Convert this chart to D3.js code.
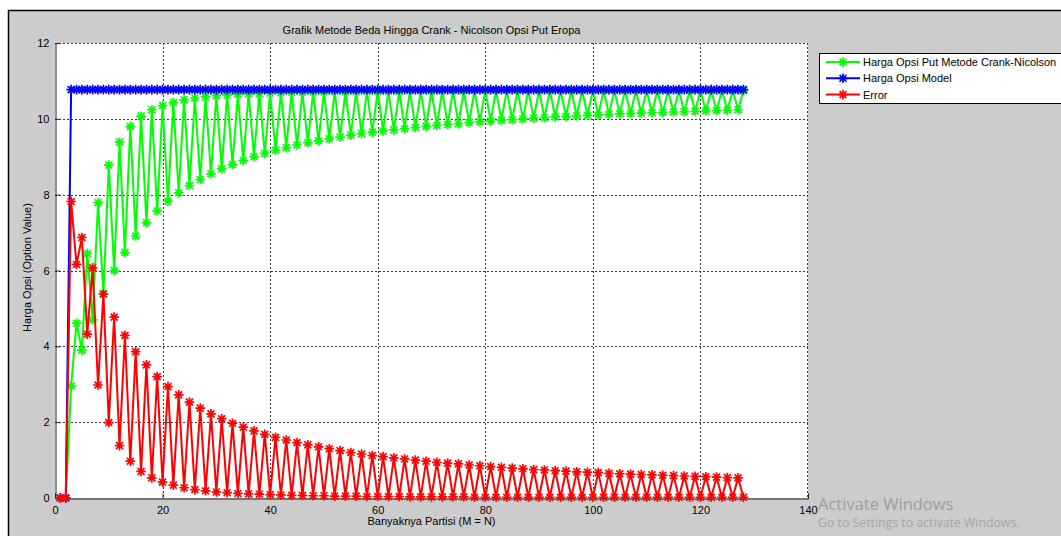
<!DOCTYPE html>
<html>
<head>
<meta charset="utf-8">
<script src="https://cdn.jsdelivr.net/npm/d3@7"></script>
<style>
  html, body { margin: 0; padding: 0; background: #ffffff; }
  svg { display: block; }
  text { font-family: "Liberation Sans", Arial, sans-serif; }
</style>
</head>
<body>
<script>
// ---- Data ----
const partitions = d3.range(1, 129); // M = N = 1..128

const cnValues = [
  0, 0, 2.95, 4.61, 3.90, 6.45, 4.70, 7.79, 5.39, 8.78,
  6.00, 9.39, 6.48, 9.80, 6.91, 10.07, 7.26, 10.24, 7.57, 10.35,
  7.83, 10.43, 8.05, 10.50, 8.24, 10.55, 8.40, 10.58, 8.55, 10.61,
  8.68, 10.63, 8.80, 10.65, 8.90, 10.66, 9.00, 10.67, 9.09, 10.68,
  9.17, 10.69, 9.24, 10.70, 9.31, 10.70, 9.37, 10.71, 9.42, 10.71,
  9.47, 10.72, 9.52, 10.72, 9.57, 10.72, 9.61, 10.73, 9.65, 10.73,
  9.68, 10.73, 9.71, 10.73, 9.74, 10.74, 9.77, 10.74, 9.80, 10.74,
  9.83, 10.74, 9.85, 10.74, 9.87, 10.74, 9.90, 10.75, 9.92, 10.75,
  9.94, 10.75, 9.96, 10.75, 9.98, 10.75, 10.00, 10.75, 10.02, 10.75,
  10.03, 10.75, 10.05, 10.75, 10.06, 10.75, 10.08, 10.75, 10.09, 10.75,
  10.10, 10.75, 10.12, 10.75, 10.13, 10.75, 10.14, 10.75, 10.15, 10.75,
  10.16, 10.75, 10.17, 10.75, 10.18, 10.75, 10.19, 10.75, 10.20, 10.75,
  10.21, 10.75, 10.22, 10.75, 10.23, 10.75, 10.24, 10.75
];

const modelValues = [
  0, 0, 10.77, 10.77, 10.77, 10.77, 10.77, 10.77, 10.77, 10.77,
  10.77, 10.77, 10.77, 10.77, 10.77, 10.77, 10.77, 10.77, 10.77, 10.77,
  10.77, 10.77, 10.77, 10.77, 10.77, 10.77, 10.77, 10.77, 10.77, 10.77,
  10.77, 10.77, 10.77, 10.77, 10.77, 10.77, 10.77, 10.77, 10.77, 10.77,
  10.77, 10.77, 10.77, 10.77, 10.77, 10.77, 10.77, 10.77, 10.77, 10.77,
  10.77, 10.77, 10.77, 10.77, 10.77, 10.77, 10.77, 10.77, 10.77, 10.77,
  10.77, 10.77, 10.77, 10.77, 10.77, 10.77, 10.77, 10.77, 10.77, 10.77,
  10.77, 10.77, 10.77, 10.77, 10.77, 10.77, 10.77, 10.77, 10.77, 10.77,
  10.77, 10.77, 10.77, 10.77, 10.77, 10.77, 10.77, 10.77, 10.77, 10.77,
  10.77, 10.77, 10.77, 10.77, 10.77, 10.77, 10.77, 10.77, 10.77, 10.77,
  10.77, 10.77, 10.77, 10.77, 10.77, 10.77, 10.77, 10.77, 10.77, 10.77,
  10.77, 10.77, 10.77, 10.77, 10.77, 10.77, 10.77, 10.77, 10.77, 10.77,
  10.77, 10.77, 10.77, 10.77, 10.77, 10.77, 10.77, 10.77
];

const errorValues = [
  0, 0, 7.82, 6.16, 6.87, 4.32, 6.07, 2.98, 5.38, 1.99,
  4.77, 1.38, 4.29, 0.97, 3.86, 0.70, 3.51, 0.53, 3.20, 0.42,
  2.94, 0.34, 2.72, 0.27, 2.53, 0.22, 2.37, 0.19, 2.22, 0.16,
  2.09, 0.14, 1.97, 0.12, 1.87, 0.11, 1.77, 0.10, 1.68, 0.09,
  1.60, 0.08, 1.53, 0.07, 1.46, 0.07, 1.40, 0.06, 1.35, 0.06,
  1.30, 0.05, 1.25, 0.05, 1.20, 0.05, 1.16, 0.04, 1.12, 0.04,
  1.09, 0.04, 1.06, 0.04, 1.03, 0.03, 1.00, 0.03, 0.97, 0.03,
  0.94, 0.03, 0.92, 0.03, 0.90, 0.03, 0.87, 0.02, 0.85, 0.02,
  0.83, 0.02, 0.81, 0.02, 0.79, 0.02, 0.77, 0.02, 0.75, 0.02,
  0.74, 0.02, 0.72, 0.02, 0.71, 0.02, 0.69, 0.02, 0.68, 0.02,
  0.67, 0.02, 0.65, 0.02, 0.64, 0.02, 0.63, 0.02, 0.62, 0.02,
  0.61, 0.02, 0.60, 0.02, 0.59, 0.02, 0.58, 0.02, 0.57, 0.02,
  0.56, 0.02, 0.55, 0.02, 0.54, 0.02, 0.53, 0.02
];

const xTicks = [0, 20, 40, 60, 80, 100, 120, 140];
const yTicks = [0, 2, 4, 6, 8, 10, 12];

const seriesNames = [
  "Harga Opsi Put Metode Crank-Nicolson",
  "Harga Opsi Model",
  "Error"
];
const seriesColors = ["#00ff00", "#0000ff", "#ff0000"];

const titleText = "Grafik Metode Beda Hingga Crank - Nicolson Opsi Put Eropa";
const xLabelText = "Banyaknya Partisi (M = N)";
const yLabelText = "Harga Opsi (Option Value)";

// ---- Layout ----
const W = 1061, H = 536;
const plot = { left: 55, right: 808, top: 43, bottom: 498 };

const svg = d3.select("body").append("svg")
  .attr("width", W).attr("height", H);

// figure background (window frame)
svg.append("rect").attr("x", 0).attr("y", 0).attr("width", W).attr("height", H).attr("fill", "#ffffff");
svg.append("rect").attr("x", 8).attr("y", 10).attr("width", W - 8).attr("height", H - 10).attr("fill", "#cccccc");
svg.append("line").attr("x1", 8).attr("x2", W).attr("y1", 10.5).attr("y2", 10.5).attr("stroke", "#000").attr("stroke-width", 1.5);
svg.append("line").attr("x1", 8.5).attr("x2", 8.5).attr("y1", 10).attr("y2", H).attr("stroke", "#000").attr("stroke-width", 1.5);

const x = d3.scaleLinear().domain([0, 140]).range([plot.left, plot.right]);
const y = d3.scaleLinear().domain([0, 12]).range([plot.bottom, plot.top]);

// plot area
svg.append("rect")
  .attr("x", plot.left).attr("y", plot.top)
  .attr("width", plot.right - plot.left).attr("height", plot.bottom - plot.top)
  .attr("fill", "#ffffff");

// grid
const grid = svg.append("g").attr("stroke", "#3a3a3a").attr("stroke-width", 1).attr("stroke-dasharray", "2,2");
grid.selectAll("line.gx").data(xTicks.slice(1, -1)).join("line")
  .attr("x1", d => Math.round(x(d)) + 0.5).attr("x2", d => Math.round(x(d)) + 0.5)
  .attr("y1", plot.top).attr("y2", plot.bottom);
grid.selectAll("line.gy").data(yTicks.slice(1, -1)).join("line")
  .attr("y1", d => Math.round(y(d)) + 0.5).attr("y2", d => Math.round(y(d)) + 0.5)
  .attr("x1", plot.left).attr("x2", plot.right);
grid.append("line").attr("x1", plot.left).attr("x2", plot.right)
  .attr("y1", plot.top + 0.5).attr("y2", plot.top + 0.5);
grid.append("line").attr("x1", plot.right - 0.5).attr("x2", plot.right - 0.5)
  .attr("y1", plot.top).attr("y2", plot.bottom);

// axes (ticks inward)
const xAxis = d3.axisBottom(x).tickValues(xTicks).tickSize(-5).tickPadding(8).tickFormat(d3.format("d"));
const yAxis = d3.axisLeft(y).tickValues(yTicks).tickSize(-5).tickPadding(8).tickFormat(d3.format("d"));

const gx = svg.append("g").attr("transform", `translate(0,${plot.bottom + 0.5})`).call(xAxis);
const gy = svg.append("g").attr("transform", `translate(${plot.left + 0.5},0)`).call(yAxis);
[gx, gy].forEach(g => {
  g.select(".domain").attr("stroke", "#222").attr("stroke-width", 1);
  g.selectAll(".tick line").attr("stroke", "#222");
  g.selectAll(".tick text").attr("fill", "#000").style("font-size", "11px")
    .style("font-family", "'Liberation Sans', Arial, sans-serif");
});
gy.selectAll(".tick text").attr("dx", "2px");

// series
const series = [cnValues, modelValues, errorValues];

const starPath = (r) => {
  const d = r * 0.72;
  return `M${-r},0L${r},0M0,${-r}L0,${r}M${-d},${-d}L${d},${d}M${-d},${d}L${d},${-d}`;
};

const line = d3.line().x((d, i) => x(partitions[i])).y(d => y(d));

series.forEach((vals, si) => {
  const g = svg.append("g");
  g.append("path").datum(vals)
    .attr("d", line)
    .attr("fill", "none")
    .attr("stroke", seriesColors[si])
    .attr("stroke-width", 2)
    .attr("stroke-linejoin", "round");
  g.selectAll("path.m").data(vals).join("path")
    .attr("class", "m")
    .attr("transform", (d, i) => `translate(${x(partitions[i])},${y(d)})`)
    .attr("d", starPath(4.8))
    .attr("stroke", seriesColors[si])
    .attr("stroke-width", 1.7)
    .attr("fill", "none");
});

// title and labels
svg.append("text").attr("x", (plot.left + plot.right) / 2).attr("y", 34)
  .attr("text-anchor", "middle").style("font-size", "11px").attr("fill", "#000")
  .text(titleText);
svg.append("text").attr("x", (plot.left + plot.right) / 2).attr("y", 525)
  .attr("text-anchor", "middle").style("font-size", "11px").attr("fill", "#000")
  .text(xLabelText);
svg.append("text").attr("transform", `translate(31,${(plot.top + plot.bottom) / 2 - 3}) rotate(-90)`)
  .attr("text-anchor", "middle").style("font-size", "11px").attr("fill", "#000")
  .text(yLabelText);

// legend
const lg = svg.append("g");
lg.append("rect").attr("x", 819.5).attr("y", 53.5).attr("width", 300).attr("height", 50)
  .attr("fill", "#ffffff").attr("stroke", "#000").attr("stroke-width", 1);
seriesNames.forEach((name, i) => {
  const cy = 62 + i * 16.3;
  lg.append("line").attr("x1", 826).attr("x2", 860).attr("y1", cy).attr("y2", cy)
    .attr("stroke", seriesColors[i]).attr("stroke-width", 2);
  lg.append("path").attr("transform", `translate(843,${cy})`).attr("d", starPath(4.8))
    .attr("stroke", seriesColors[i]).attr("stroke-width", 1.7).attr("fill", "none");
  lg.append("text").attr("x", 863).attr("y", cy + 4).style("font-size", "11px")
    .attr("fill", "#000").text(name);
});

// OS watermark present in the reference screenshot
svg.append("text").attr("x", 818).attr("y", 510).style("font-size", "16.5px")
  .style("font-family", "'Open Sans', 'Noto Sans', sans-serif").attr("fill", "#9e9e9e")
  .text("Activate Windows");
svg.append("text").attr("x", 818).attr("y", 527).style("font-size", "12.3px")
  .style("font-family", "'Open Sans', 'Noto Sans', sans-serif").attr("fill", "#a3a3a3")
  .text("Go to Settings to activate Windows.");
</script>
</body>
</html>
